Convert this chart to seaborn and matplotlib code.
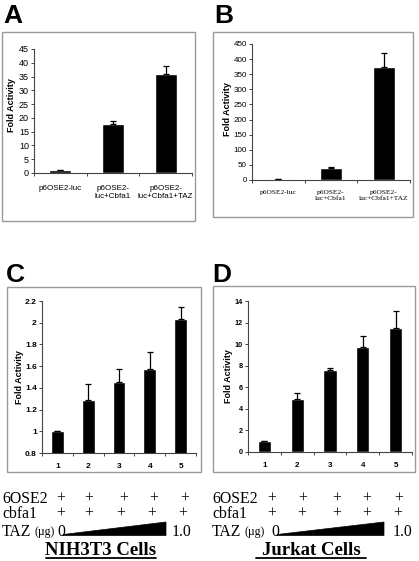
import numpy as np
import pandas as pd
import matplotlib.pyplot as plt
import seaborn as sns
from matplotlib.patches import Rectangle, Polygon
from matplotlib.lines import Line2D
from matplotlib.ticker import FixedLocator, FuncFormatter

W, H = 419, 561

# panel A / B: reporter constructs
ab_labels = ["p6OSE2-luc", "p6OSE2-\nluc+Cbfa1", "p6OSE2-\nluc+Cbfa1+TAZ"]
a_values = [1.0, 17.8, 35.9]
a_errors = [0.0, 1.2, 3.0]
b_values = [3.0, 39.0, 373.0]
b_errors = [0.0, 3.0, 46.0]

# panel C / D: TAZ titration
cd_labels = ["1", "2", "3", "4", "5"]
c_values = [1.0, 1.285, 1.45, 1.57, 2.035]
c_errors = [0.0, 0.148, 0.124, 0.163, 0.113]
d_values = [1.0, 4.95, 7.6, 9.75, 11.5]
d_errors = [0.0, 0.5, 0.15, 1.05, 1.6]

sns.set_style("white")
plt.rcParams["font.family"] = ["Liberation Sans", "DejaVu Sans"]
plt.rcParams["text.color"] = "black"
plt.rcParams["axes.labelcolor"] = "black"
plt.rcParams["xtick.color"] = "black"
plt.rcParams["ytick.color"] = "black"

fig = plt.figure(figsize=(W / 100, H / 100), dpi=100)


def px_rect(left, top, right, bottom):
    return [left / W, 1 - bottom / H, (right - left) / W, (bottom - top) / H]


def ftext(x, y, s, **kw):
    fig.text(x / W, 1 - y / H, s, color="black", **kw)


def frame(left, top, right, bottom):
    fig.add_artist(Rectangle((left / W, 1 - bottom / H), (right - left) / W,
                             (bottom - top) / H, transform=fig.transFigure,
                             fill=False, edgecolor="#9a9a9a", lw=1.0))


def bar_panel(rect, labels, values, errors, ylim, yticks, width,
              ytick_font, xtick_font, xpad, label_x, label_y):
    ax = fig.add_axes(px_rect(*rect))
    df = pd.DataFrame({"group": labels, "value": values})
    sns.barplot(data=df, x="group", y="value", color="black", saturation=1,
                width=width, errorbar=None, ax=ax)
    n = len(values)
    ax.errorbar(np.arange(n), values, yerr=[np.zeros(n), errors], fmt="none",
                ecolor="black", elinewidth=0.9, capsize=2.2, capthick=0.9)
    ax.set_xlim(-0.5, n - 0.5)
    ax.set_ylim(*ylim)
    ax.set_yticks(yticks)
    ax.yaxis.set_major_formatter(FuncFormatter(lambda v, p: f"{v:g}"))
    ax.xaxis.set_minor_locator(FixedLocator(np.arange(n + 1) - 0.5))
    ax.tick_params(axis="x", which="major", length=0, pad=xpad)
    ax.tick_params(axis="x", which="minor", length=2.5, width=0.7,
                   color="#444", direction="out", bottom=True)
    ax.tick_params(axis="y", length=2.5, width=0.7, color="#444",
                   direction="out", left=True, pad=1.2)
    for t in ax.get_yticklabels():
        t.set(**ytick_font)
    for t in ax.get_xticklabels():
        t.set(**xtick_font)
    for s in ["top", "right"]:
        ax.spines[s].set_visible(False)
    for s in ["left", "bottom"]:
        ax.spines[s].set_color("#444")
        ax.spines[s].set_linewidth(0.8)
    ax.set_xlabel("")
    ax.set_ylabel("Fold Activity", fontsize=6.5, fontweight="bold")
    ax.yaxis.set_label_coords(label_x, label_y)
    ax.set_facecolor("none")
    return ax


# panel A
frame(2, 32, 195, 221)
ftext(3, 23, "A", fontsize=19, fontweight="bold")
bar_panel((34, 49, 192, 173), ab_labels, a_values, a_errors, (0, 45),
          np.arange(0, 46, 5), 0.42,
          {"fontsize": 6.5}, {"fontsize": 5.8, "va": "top"}, 8.5, -0.115, 0.55)

# panel B
frame(213, 32, 413, 217)
ftext(214, 23, "B", fontsize=19, fontweight="bold")
bar_panel((252, 44, 410, 180), ab_labels, b_values, b_errors, (0, 450),
          np.arange(0, 451, 50), 0.42,
          {"fontsize": 5.8},
          {"fontsize": 5.4, "family": ["Liberation Serif"], "va": "top"},
          7.0, -0.125, 0.52)

# panel C
frame(7, 287, 201, 472)
ftext(6, 282, "C", fontsize=19, fontweight="bold")
bar_panel((42, 301, 196, 453), cd_labels, c_values, c_errors, (0.8, 2.2),
          np.round(np.arange(0.8, 2.21, 0.2), 1), 0.42,
          {"fontsize": 6, "fontweight": "bold"},
          {"fontsize": 6, "fontweight": "bold"}, 7.5, -0.117, 0.5)

# panel D
frame(213, 286, 415, 472)
ftext(212, 282, "D", fontsize=19, fontweight="bold")
bar_panel((248, 301, 412, 452), cd_labels, d_values, d_errors, (0, 14),
          np.arange(0, 15, 2), 0.40,
          {"fontsize": 5.2, "fontweight": "bold"},
          {"fontsize": 5.8, "fontweight": "bold"}, 7.5, -0.09, 0.5)

# condition tables below C and D
serif = ["Liberation Serif", "DejaVu Serif"]
fs = 11.3
rows = [
    (2, [61, 89, 124, 154, 185], [61, 89, 121, 152, 183], 34, 57, 172,
     (63, 166), 101, "NIH3T3 Cells"),
    (212, [272, 303, 337, 367, 399], [272, 302, 337, 367, 398], 244, 271, 393,
     (277, 384), 311, "Jurkat Cells"),
]
for x0, plus1, plus2, ug_x, zero_x, one_x, wedge, cx, title in rows:
    ftext(x0, 503, "6OSE2", fontsize=fs, family=serif)
    ftext(x0, 518, "cbfa1", fontsize=fs, family=serif)
    ftext(x0, 536, "TAZ", fontsize=fs, family=serif)
    ftext(ug_x, 535, "(\u00b5g)", fontsize=8.5, family=serif)
    ftext(zero_x, 536, "0", fontsize=fs, family=serif)
    ftext(one_x, 536, "1.0", fontsize=fs, family=serif)
    for px in plus1:
        ftext(px, 503, "+", fontsize=fs, family=serif, ha="center")
    for px in plus2:
        ftext(px, 518, "+", fontsize=fs, family=serif, ha="center")
    wl, wr = wedge
    fig.add_artist(Polygon([(wl / W, 1 - 535.5 / H), (wr / W, 1 - 535.5 / H),
                            (wr / W, 1 - 522 / H), (wl / W, 1 - 534.5 / H)],
                           closed=True, transform=fig.transFigure,
                           facecolor="black", edgecolor="black", lw=0.5))
    ftext(cx, 555, title, fontsize=13.5, family=serif, fontweight="bold",
          ha="center")
    fig.add_artist(Line2D([(cx - 55) / W, (cx + 55) / W],
                          [1 - 558 / H, 1 - 558 / H],
                          transform=fig.transFigure, color="black", lw=1.3))

fig.savefig("out.png", dpi=100)
